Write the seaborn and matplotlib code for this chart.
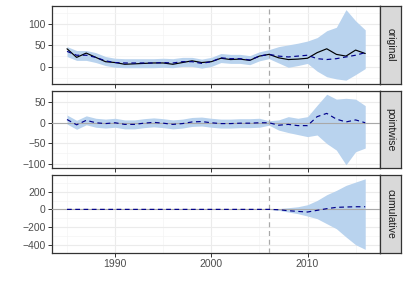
import numpy as np
import pandas as pd
import matplotlib
matplotlib.use("Agg")
import matplotlib.pyplot as plt
import seaborn as sns

# years 1985-2016, intervention after 2006
years = list(range(1985, 2017))
t_break = 2006

actual = [42, 22, 32, 22, 12, 10, 6, 7, 8, 9, 9, 6, 10, 14, 10, 12, 20, 17, 18, 15, 25, 29,
          21, 17, 18, 20, 33, 42, 29, 25, 39, 31]
pred = [36, 27, 27, 22, 14, 10, 9, 9, 9, 9, 10, 9, 12, 12, 8, 12, 21, 19, 19, 16, 25, 29,
        25, 23, 25, 27, 19, 17, 19, 23, 27, 33]
pred_lo = [24, 15, 15, 10, 3, -1, -2, -2, -2, -2, -1, -2, 1, 1, -3, 1, 10, 8, 8, 5, 14, 19,
           9, -1, 3, 8, -10, -23, -28, -31, -18, -4]
pred_hi = [47, 38, 38, 33, 24, 20, 19, 19, 19, 19, 20, 19, 22, 22, 18, 22, 31, 29, 29, 26, 35, 40,
           47, 51, 55, 60, 68, 84, 92, 133, 107, 86]

point = [8, -5, 6, 0, -2, 0, -4, -4, -1, 1, -1, -4, -2, 2, 3, 0, -2, -2, -1, -1, 0, 0,
         -6, -4, -7, -7, 15, 23, 9, 2, 7, 0]
point_lo = [-3, -16, -5, -11, -13, -11, -15, -15, -12, -10, -12, -15, -13, -9, -8, -11, -13, -13, -12, -12, -11, -6,
            -18, -24, -29, -34, -30, -51, -67, -103, -71, -62]
point_hi = [19, 6, 17, 11, 9, 11, 7, 7, 10, 12, 10, 7, 9, 13, 14, 11, 9, 9, 10, 10, 11, 5,
            7, 15, 11, 15, 43, 70, 58, 60, 58, 42]

cum = [0] * 22 + [-4, -15, -23, -30, -11, 8, 23, 27, 30, 30]
cum_lo = [0] * 22 + [-11, -30, -49, -76, -106, -163, -220, -314, -402, -455]
cum_hi = [0] * 22 + [8, 19, 30, 53, 102, 167, 216, 273, 311, 348]

panels = ["original", "pointwise", "cumulative"]
major_y = [[0, 50, 100], [-100, -50, 0, 50], [-400, -200, 0, 200]]
minor_y = [[-25, 25, 75, 125], [-75, -25, 25, 75], [-300, -100, 100, 300]]

df = pd.DataFrame({"year": years, "actual": actual, "pred": pred,
                   "pred_lo": pred_lo, "pred_hi": pred_hi,
                   "point": point, "point_lo": point_lo, "point_hi": point_hi,
                   "cum": cum, "cum_lo": cum_lo, "cum_hi": cum_hi})

sns.set_style("white")
plt.rcParams["font.family"] = ["Liberation Sans", "DejaVu Sans"]

fig, axes = plt.subplots(3, 1, figsize=(4.07, 2.91), dpi=100, sharex=True)
fig.subplots_adjust(left=0.128, right=0.934, top=0.979, bottom=0.131, hspace=0.09)

band_col = "#B9D3EE"
series = [("pred", "pred_lo", "pred_hi"), ("point", "point_lo", "point_hi"),
          ("cum", "cum_lo", "cum_hi")]

for i, ax in enumerate(axes):
    mid, lo, hi = series[i]
    ax.set_facecolor("white")
    ax.set_axisbelow(True)
    ax.set_xticks([1990, 2000, 2010])
    ax.set_xticks([1985, 1995, 2005, 2015], minor=True)
    ax.set_yticks(major_y[i])
    ax.set_yticks(minor_y[i], minor=True)
    ax.grid(which="major", color="#EBEBEB", lw=0.8)
    ax.grid(which="minor", color="#F4F4F4", lw=0.5)

    ax.fill_between(df["year"], df[lo], df[hi], color=band_col, lw=0, zorder=2)
    if i > 0:
        ax.axhline(0, color="#A9A9A9", lw=0.8, zorder=3)
    if i == 0:
        sns.lineplot(data=df, x="year", y="actual", ax=ax, color="black", lw=0.85, zorder=4)
    sns.lineplot(data=df, x="year", y=mid, ax=ax, color="darkblue", lw=0.85,
                 linestyle=(0, (4, 3)), zorder=5)
    ax.axvline(t_break, color="#A9A9A9", lw=0.9, linestyle=(0, (4, 3)), zorder=3)

    ax.set_xlim(1983.45, 2017.55)
    vals = df[[lo, hi, mid]].values
    if i == 0:
        vals = np.append(vals, df["actual"].values)
    vmin, vmax = vals.min(), vals.max()
    pad = (vmax - vmin) * 0.05
    ax.set_ylim(vmin - pad, vmax + pad)
    ax.set_xlabel("")
    ax.set_ylabel("")

    for s in ax.spines.values():
        s.set_color("#333333")
        s.set_linewidth(0.9)
    ax.tick_params(which="major", direction="out", length=3, width=0.7, color="#333333",
                   labelsize=7.5, labelcolor="#4D4D4D", left=True, bottom=True, pad=1.5)
    ax.tick_params(which="minor", length=0)

    # facet strip on the right
    pos = ax.get_position()
    sax = fig.add_axes([pos.x1, pos.y0, 0.0516, pos.height])
    sax.set_facecolor("#D9D9D9")
    sax.set_xticks([])
    sax.set_yticks([])
    for s in sax.spines.values():
        s.set_color("#333333")
        s.set_linewidth(0.9)
    sax.text(0.5, 0.5, panels[i], rotation=-90, ha="center", va="center",
             fontsize=7.5, color="#1A1A1A", transform=sax.transAxes)

fig.savefig("out.png", dpi=100)
